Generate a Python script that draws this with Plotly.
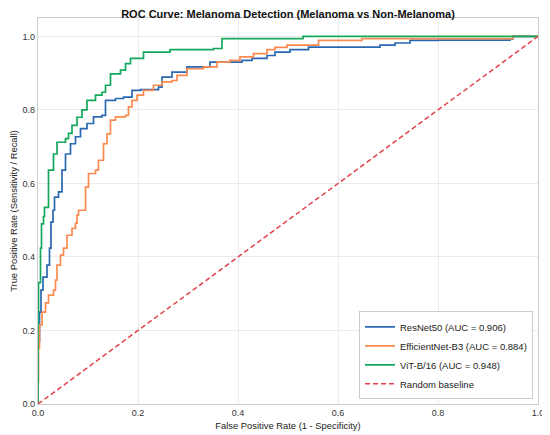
import plotly.graph_objects as go

# ROC points (FPR, TPR)
resnet_fpr = [0.0, 0.0, 0.003, 0.006, 0.01, 0.018, 0.023, 0.026, 0.03, 0.033, 0.041, 0.048, 0.055,
              0.065, 0.075, 0.085, 0.098, 0.111, 0.128, 0.135, 0.155, 0.171, 0.188, 0.205, 0.241,
              0.248, 0.268, 0.298, 0.334, 0.344, 0.408, 0.428, 0.458, 0.474, 0.504, 0.541, 0.684,
              0.714, 0.744, 0.8, 0.944, 0.95, 1.0]
resnet_tpr = [0.0, 0.17, 0.25, 0.31, 0.345, 0.378, 0.424, 0.495, 0.527, 0.563, 0.577, 0.636, 0.68,
              0.708, 0.727, 0.749, 0.763, 0.781, 0.785, 0.826, 0.831, 0.835, 0.853, 0.855, 0.862,
              0.889, 0.903, 0.917, 0.917, 0.93, 0.935, 0.94, 0.948, 0.957, 0.964, 0.971, 0.976,
              0.982, 0.989, 0.99, 0.993, 1.0, 1.0]

effnet_fpr = [0.0, 0.0, 0.001, 0.003, 0.008, 0.015, 0.021, 0.031, 0.035, 0.038, 0.045, 0.051, 0.058,
              0.068, 0.075, 0.078, 0.081, 0.088, 0.095, 0.101, 0.115, 0.121, 0.131, 0.138, 0.145,
              0.155, 0.175, 0.181, 0.188, 0.198, 0.211, 0.231, 0.248, 0.268, 0.278, 0.298, 0.331,
              0.358, 0.384, 0.404, 0.431, 0.458, 0.474, 0.498, 0.561, 0.648, 0.95, 1.0]
effnet_tpr = [0.0, 0.06, 0.152, 0.215, 0.25, 0.275, 0.296, 0.31, 0.337, 0.378, 0.405, 0.424, 0.459,
              0.478, 0.492, 0.514, 0.527, 0.527, 0.59, 0.627, 0.636, 0.663, 0.708, 0.735, 0.772,
              0.781, 0.785, 0.808, 0.826, 0.84, 0.853, 0.867, 0.876, 0.88, 0.894, 0.912, 0.917,
              0.93, 0.935, 0.944, 0.953, 0.964, 0.97, 0.976, 0.989, 0.994, 1.0, 1.0]

vit_fpr = [0.0, 0.0, 0.001, 0.005, 0.007, 0.011, 0.013, 0.021, 0.031, 0.038, 0.055, 0.061, 0.068,
           0.078, 0.088, 0.098, 0.115, 0.128, 0.135, 0.145, 0.165, 0.175, 0.185, 0.211, 0.264,
           0.351, 0.368, 0.53, 1.0]
vit_tpr = [0.0, 0.247, 0.33, 0.424, 0.49, 0.51, 0.535, 0.636, 0.68, 0.712, 0.722, 0.736, 0.758,
           0.78, 0.8, 0.826, 0.84, 0.848, 0.867, 0.898, 0.908, 0.926, 0.94, 0.957, 0.964,
           0.967, 0.994, 1.0, 1.0]

models = ["ResNet50", "EfficientNet-B3", "ViT-B/16"]
aucs = [0.906, 0.884, 0.948]
colors = ["#2a68b0", "#fb8a50", "#14a85c"]
curves = [(resnet_fpr, resnet_tpr), (effnet_fpr, effnet_tpr), (vit_fpr, vit_tpr)]

fig = go.Figure()
for name, auc, col, (fx, ty) in zip(models, aucs, colors, curves):
    fig.add_trace(go.Scatter(x=fx, y=ty, mode="lines", line_shape="hv",
                             line=dict(color=col, width=1.7),
                             name=f"{name} (AUC = {auc:.3f})"))

fig.add_trace(go.Scatter(x=[0, 1], y=[0, 1], mode="lines",
                         line=dict(color="#e3424a", width=1.5, dash="5px,3px"),
                         name="Random baseline"))

axis_style = dict(showgrid=True, gridcolor="#ebebeb", gridwidth=1, zeroline=False,
                  showline=True, linecolor="#cccccc", linewidth=1.2, mirror=True,
                  ticks="", tickfont=dict(size=9, color="#333333"), automargin=False,
                  title_font=dict(size=9.4, color="#222222"))

# page body has an 8px margin, so the figure is a little smaller than the window
fig.update_layout(
    width=542, height=427,
    margin=dict(l=30, r=12, t=10, b=31),
    paper_bgcolor="white", plot_bgcolor="white",
    font=dict(family="Liberation Sans, Arial, sans-serif"),
    title=dict(text="<b>ROC Curve: Melanoma Detection (Melanoma vs Non-Melanoma)</b>",
               x=0.5, xref="paper", y=0.986, yanchor="middle",
               font=dict(size=11, color="#111111")),
    xaxis=dict(range=[0, 1], tickvals=[0, 0.2, 0.4, 0.6, 0.8, 1.0], tickformat=".1f",
               title=dict(text="False Positive Rate (1 - Specificity)", standoff=5), **axis_style),
    yaxis=dict(range=[0, 1.05], tickvals=[0, 0.2, 0.4, 0.6, 0.8, 1.0], tickformat=".1f",
               title=dict(text="True Positive Rate (Sensitivity / Recall)", standoff=5), **axis_style),
    legend=dict(x=0.99, y=0.012, xanchor="right", yanchor="bottom",
                bgcolor="rgba(255,255,255,0.9)", bordercolor="#cccccc", borderwidth=1,
                font=dict(size=9.5, color="#222222"), tracegroupgap=0, itemwidth=30),
    showlegend=True,
)

fig.write_html("out.html")
